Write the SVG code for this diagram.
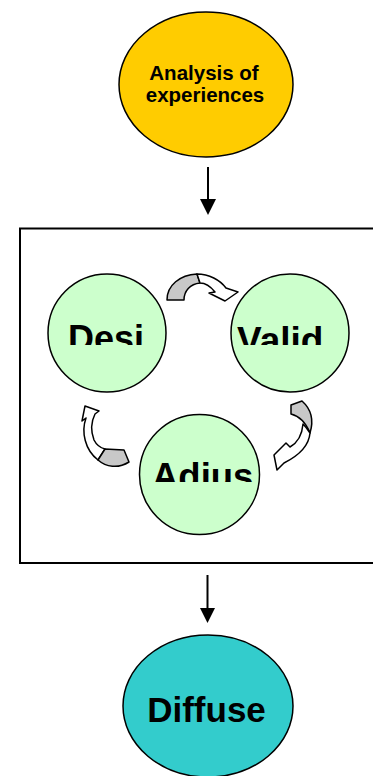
<svg xmlns="http://www.w3.org/2000/svg" width="373" height="776" viewBox="0 0 373 776">
  <style>
    .lbl { font-family: "Liberation Sans", Arial, sans-serif; font-weight: bold; fill: #000; }
    .step { fill: #CCFFCC; stroke: #000; stroke-width: 1.5; }
    .under { fill: #C8C8C8; stroke: #000; stroke-width: 1.5; stroke-linejoin: round; }
    .over { fill: #FFFFFF; stroke: #000; stroke-width: 1.5; stroke-linejoin: round; }
    .flow { stroke: #000; stroke-width: 2; fill: none; }
  </style>
  <defs>
    <clipPath id="clipTop"><rect x="0" y="0" width="373" height="345"/></clipPath>
    <clipPath id="clipBottom"><rect x="0" y="0" width="373" height="482"/></clipPath>
  </defs>

  <rect width="373" height="776" fill="#FFFFFF"/>

  <!-- frame around the design cycle -->
  <rect id="cycle-frame" x="20" y="228.5" width="370" height="334.5" fill="none" stroke="#000" stroke-width="2"/>

  <g id="analysis">
    <ellipse cx="206" cy="84.5" rx="87" ry="72.5" fill="#FFCC00" stroke="#000" stroke-width="1.5"/>
    <text class="lbl" x="204" y="80" font-size="20.5" text-anchor="middle">Analysis of</text>
    <text class="lbl" x="205" y="102" font-size="20.5" text-anchor="middle">experiences</text>
  </g>

  <g id="design">
    <circle class="step" cx="107" cy="333" r="59"/>
    <text class="lbl" x="68" y="351" font-size="36" clip-path="url(#clipTop)">Desi</text>
  </g>

  <g id="validate">
    <circle class="step" cx="290" cy="333" r="59"/>
    <text class="lbl" x="237" y="353" font-size="37" clip-path="url(#clipTop)">Valid</text>
  </g>

  <g id="adjust">
    <circle class="step" cx="199.5" cy="474.5" r="60"/>
    <text class="lbl" x="152" y="489" font-size="36.5" clip-path="url(#clipBottom)">Adius</text>
  </g>

  <g id="diffuse">
    <ellipse cx="208" cy="706" rx="85" ry="71" fill="#33CCCC" stroke="#000" stroke-width="1.5"/>
    <text class="lbl" x="206.5" y="722" font-size="35" text-anchor="middle">Diffuse</text>
  </g>

  <g id="connectors">
    <!-- analysis to cycle -->
    <line class="flow" x1="208" y1="167" x2="208" y2="201"/>
    <polygon points="200,199 216,199 208,215" fill="#000"/>
    <!-- cycle to diffuse -->
    <line class="flow" x1="207.5" y1="575" x2="207.5" y2="610"/>
    <polygon points="200,608 215,608 207.5,623" fill="#000"/>

    <!-- curved arrow: design to validate -->
    <path class="under" d="M167,300 C167,285 180,275 197,274 L200,283 C190,284 184,291 184,300 Z"/>
    <path class="over" d="M197,274 C209,274 220,280 226,288 L238,292 L225,301 L209,293 L215,292 C211,287 206,283 200,283 Z"/>

    <!-- curved arrow: validate to adjust -->
    <path class="under" d="M291,405 L302,401 C311,409 314,420 310,433 C306,423 299,416 291,414 Z"/>
    <path class="over" d="M310,433 C309,445 300,455 284,463 L277,470 L274,455 L286,443 L290,447 C297,443 302,436 303,424 C306,427 308,430 310,433 Z"/>

    <!-- curved arrow: adjust to design -->
    <path class="over" d="M86,418 L82,421 L85,406 L99,411 L95,414 C91,422 91,432 94,440 C97,446 101,448 105,449 L98,460 C85,450 81,432 86,418 Z"/>
    <path class="under" d="M105,449 L124,450 L129,462 C118,469 106,467 98,460 Z"/>
  </g>
</svg>
